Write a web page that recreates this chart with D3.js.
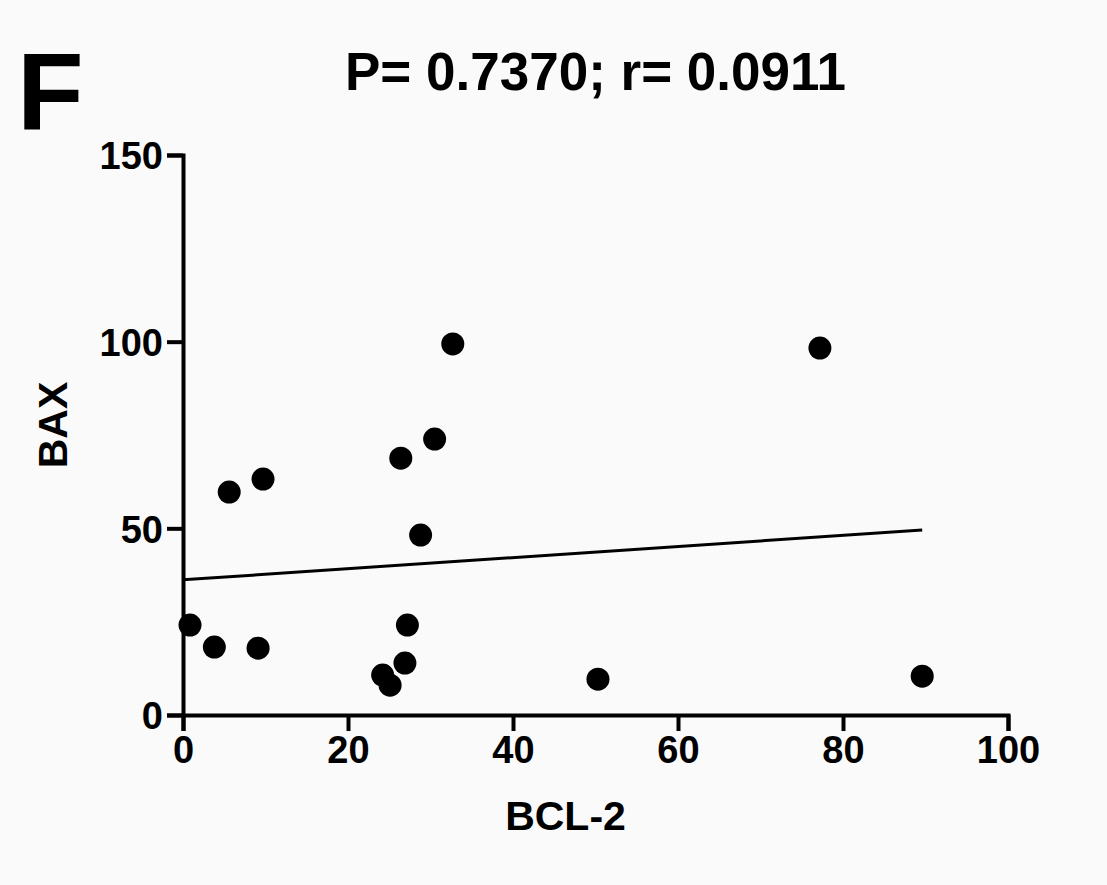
<!DOCTYPE html>
<html>
<head>
<meta charset="utf-8">
<script src="https://cdn.jsdelivr.net/npm/d3@7"></script>
<style>
  body { margin: 0; background: #fafafa; }
  svg { display: block; }
  text { font-family: "Liberation Sans", Arial, sans-serif; font-weight: bold; fill: #000; }
</style>
</head>
<body>
<svg id="chart" width="1107" height="885"></svg>
<script>
// BCL-2 vs BAX values
var bcl2 = [0.85, 3.8, 9.1, 5.6, 9.7, 32.7, 26.4, 30.5, 28.8, 27.2, 26.9, 24.2, 25.1, 50.3, 89.6, 77.2];
var bax  = [24.1, 18.2, 17.9, 59.7, 63.2, 99.4, 68.8, 73.9, 48.2, 24.1, 13.9, 10.7, 8.0, 9.6, 10.4, 98.3];

// fitted line, as drawn in the figure
var fitIntercept = 36.2;
var fitSlope = 0.149;

var xTicks = [0, 20, 40, 60, 80, 100];
var yTicks = [0, 50, 100, 150];

var panelLabel = 'F';
var title = 'P= 0.7370; r= 0.0911';
var xTitle = 'BCL-2';
var yTitle = 'BAX';

var svg = d3.select('#chart');

var x = d3.scaleLinear().domain([0, 100]).range([183, 1008]);
var y = d3.scaleLinear().domain([0, 150]).range([715, 155]);

// axes
var xAxis = svg.append('g')
  .attr('transform', 'translate(0,' + y(0) + ')')
  .call(d3.axisBottom(x).tickValues(xTicks).tickSizeOuter(0).tickSize(16).tickPadding(5));

var yAxis = svg.append('g')
  .attr('transform', 'translate(' + x(0) + ',0)')
  .call(d3.axisLeft(y).tickValues(yTicks).tickSizeOuter(0).tickSize(16).tickPadding(4));

[xAxis, yAxis].forEach(function (g) {
  g.select('.domain').attr('stroke', '#000').attr('stroke-width', 4);
  g.selectAll('.tick line').attr('stroke', '#000').attr('stroke-width', 4);
  g.selectAll('.tick text')
    .style('font-size', '38px')
    .style('font-family', '"Liberation Sans", Arial, sans-serif')
    .style('font-weight', 'bold')
    .attr('fill', '#000');
});
yAxis.selectAll('.tick text').attr('dy', '0.36em');

// regression line over the data range
var xExt = d3.extent(bcl2);
var lineX = [0, xExt[1]];
svg.append('path')
  .datum(lineX)
  .attr('fill', 'none')
  .attr('stroke', '#000')
  .attr('stroke-width', 3)
  .attr('d', d3.line()
    .x(function (d) { return x(d); })
    .y(function (d) { return y(fitIntercept + fitSlope * d); }));

// points
svg.append('g').selectAll('circle')
  .data(d3.zip(bcl2, bax))
  .enter().append('circle')
  .attr('cx', function (d) { return x(d[0]); })
  .attr('cy', function (d) { return y(d[1]); })
  .attr('r', 11.5)
  .attr('fill', '#000');

// texts
svg.append('text')
  .attr('x', 17)
  .attr('y', 130)
  .style('font-size', '109px')
  .text(panelLabel);

svg.append('text')
  .attr('x', (x(0) + x(100)) / 2)
  .attr('y', 90)
  .attr('text-anchor', 'middle')
  .style('font-size', '53px')
  .text(title);

svg.append('text')
  .attr('x', (x(0) + x(100)) / 2 - 30)
  .attr('y', 830)
  .attr('text-anchor', 'middle')
  .style('font-size', '41px')
  .text(xTitle);

svg.append('text')
  .attr('transform', 'translate(67,425) rotate(-90)')
  .attr('text-anchor', 'middle')
  .style('font-size', '41px')
  .text(yTitle);
</script>
</body>
</html>
